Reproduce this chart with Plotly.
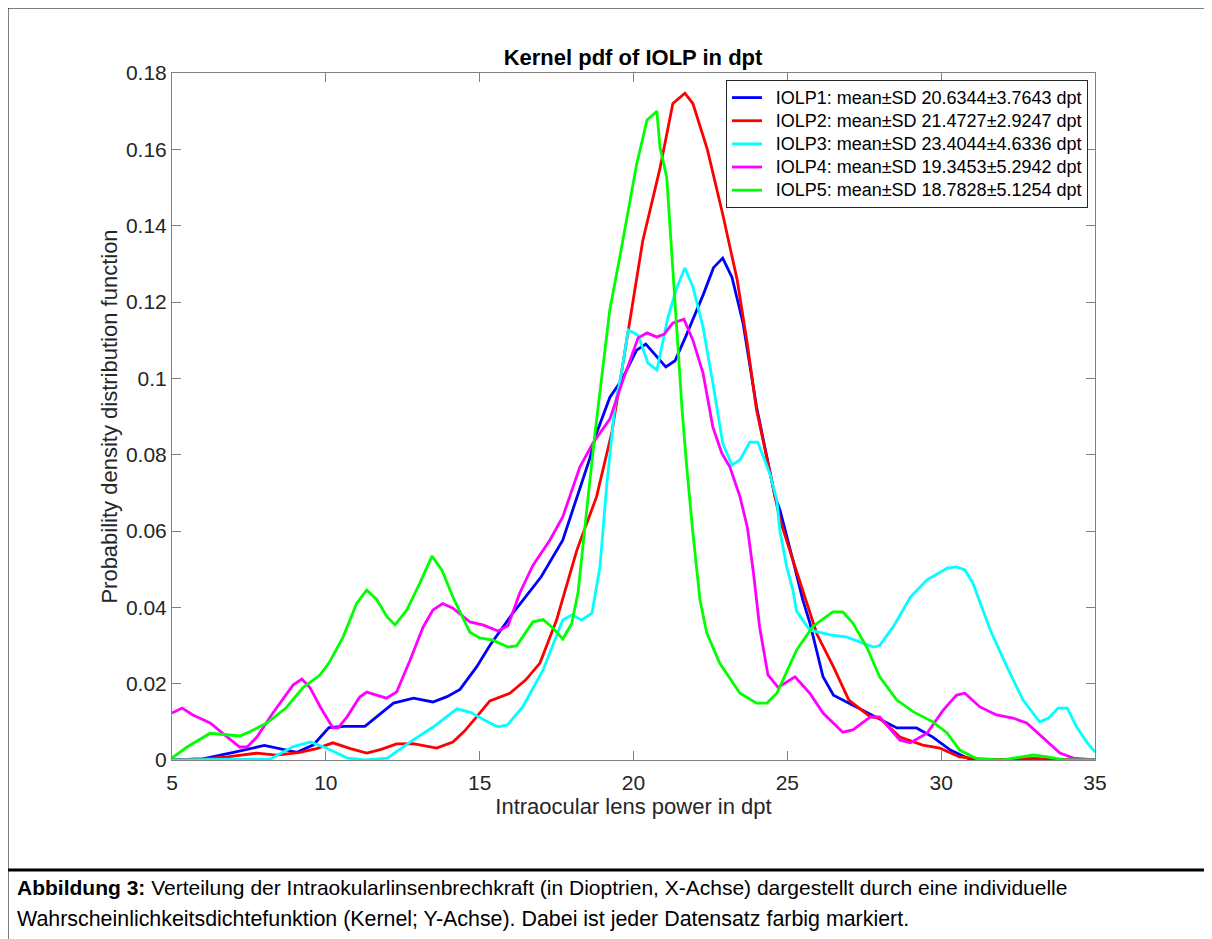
import plotly.graph_objects as go

# ---------------- data ----------------
x_iolp1 = [5, 6, 7, 8.0, 9.06, 9.6, 10.1, 10.6, 11.27, 12.2, 12.85, 13.48, 13.94, 14.36, 14.9, 15.33,
           16.08, 17.0, 17.7, 18.16, 18.58, 18.8, 19.23, 19.62, 20.1, 20.4, 21.05, 21.35, 21.7, 22.27,
           22.6, 22.9, 23.2, 23.56, 24.0, 24.6, 24.76, 25.18, 25.5, 25.73, 25.96, 26.16, 26.5, 27.26,
           27.9, 28.56, 29.2, 29.73, 30.3, 30.9, 32, 35]
y_iolp1 = [0, 0.0003, 0.002, 0.0038, 0.002, 0.004, 0.0085, 0.0088, 0.0088, 0.0149, 0.0162, 0.0152,
           0.0166, 0.0185, 0.0244, 0.030, 0.0385, 0.048, 0.0576, 0.069, 0.079, 0.0857, 0.095, 0.0996,
           0.1074, 0.109, 0.103, 0.1046, 0.111, 0.122, 0.129, 0.1315, 0.1265, 0.1145, 0.0925, 0.069,
           0.0655, 0.0524, 0.042, 0.036, 0.028, 0.0218, 0.017, 0.0139, 0.0113, 0.0084, 0.0084, 0.006,
           0.0026, 0.0003, 0, 0]

x_iolp2 = [5, 6, 6.8, 7.76, 8.4, 9.16, 9.7, 10.23, 10.8, 11.33, 11.8, 12.3, 12.83, 13.6, 14.13, 14.5,
           14.9, 15.33, 15.98, 16.5, 16.96, 17.5, 18.16, 18.8, 19.3, 19.88, 20.3, 20.86, 21.28, 21.67,
           21.93, 22.4, 22.9, 23.37, 23.7, 24.0, 24.76, 25.18, 25.73, 25.96, 26.5, 27.0, 27.7, 28.0,
           28.66, 29.4, 29.96, 30.6, 31.2, 32, 33, 34, 35]
y_iolp2 = [0, 0.0003, 0.0008, 0.0018, 0.0013, 0.002, 0.003, 0.0045, 0.003, 0.0018, 0.0028, 0.0042,
           0.0043, 0.0031, 0.0047, 0.0075, 0.0113, 0.0155, 0.0175, 0.021, 0.0254, 0.0367, 0.055, 0.069,
           0.086, 0.1145, 0.136, 0.155, 0.172, 0.1747, 0.172, 0.160, 0.143, 0.1258, 0.109, 0.0917,
           0.063, 0.0524, 0.039, 0.033, 0.0244, 0.0157, 0.0113, 0.011, 0.006, 0.0039, 0.0031, 0.0008,
           0.0003, 0.0001, 0.0004, 0.0001, 0]

x_iolp3 = [5, 8.2, 8.94, 9.5, 10.03, 10.7, 11.3, 12.0, 12.83, 13.5, 14.26, 14.7, 15.33, 15.6, 15.9,
           16.4, 17.06, 17.7, 18.0, 18.32, 18.65, 18.91, 19.13, 19.4, 19.6, 19.83, 20.15, 20.47, 20.76,
           21.12, 21.4, 21.67, 21.93, 22.26, 22.58, 22.9, 23.2, 23.46, 23.78, 24.04, 24.43, 24.66,
           24.76, 24.98, 25.18, 25.3, 25.73, 26.4, 26.94, 27.36, 27.8, 28.0, 28.45, 29.0, 29.54, 30.2,
           30.5, 30.77, 31.03, 31.6, 32.14, 32.66, 33.2, 33.5, 33.8, 34.1, 34.4, 34.75, 35]
y_iolp3 = [0, 0.0003, 0.0035, 0.0047, 0.0031, 0.0005, 0, 0.0005, 0.0052, 0.0087, 0.0134, 0.0125,
           0.0097, 0.0087, 0.0092, 0.0139, 0.0236, 0.0367, 0.038, 0.0367, 0.0385, 0.0506, 0.072, 0.093,
           0.101, 0.1127, 0.1113, 0.104, 0.1022, 0.116, 0.1236, 0.1289, 0.124, 0.1134, 0.0988, 0.083,
           0.0773, 0.0786, 0.0833, 0.0833, 0.075, 0.068, 0.060, 0.0506, 0.0445, 0.039, 0.034, 0.0328,
           0.0322, 0.031, 0.0296, 0.030, 0.035, 0.0427, 0.0472, 0.0503, 0.0506, 0.0498, 0.0464, 0.034,
           0.0244, 0.0157, 0.010, 0.011, 0.0136, 0.0136, 0.0087, 0.0045, 0.0021]

x_iolp4 = [5.0, 5.33, 5.68, 6.24, 6.8, 7.2, 7.44, 7.76, 8.28, 8.94, 9.22, 9.49, 9.82, 10.23, 10.4,
           10.69, 11.1, 11.33, 11.97, 12.3, 12.73, 13.16, 13.48, 13.8, 14.13, 14.68, 15.1, 15.6, 15.92,
           16.3, 16.73, 17.28, 17.7, 18.26, 18.68, 19.23, 19.66, 20.15, 20.44, 20.76, 21.0, 21.28,
           21.64, 21.93, 22.26, 22.58, 22.87, 23.13, 23.46, 23.7, 23.9, 24.1, 24.37, 24.7, 25.25,
           25.73, 26.16, 26.8, 27.13, 27.7, 28.0, 28.66, 29.0, 29.54, 30.06, 30.5, 30.77, 31.26, 31.8,
           32.33, 32.78, 33.3, 33.86, 34.3, 35]
y_iolp4 = [0.0123, 0.0136, 0.0118, 0.0097, 0.006, 0.0034, 0.0034, 0.006, 0.0123, 0.0197, 0.0212,
           0.0189, 0.0139, 0.0084, 0.0084, 0.0113, 0.0165, 0.0178, 0.0162, 0.0178, 0.026, 0.0348,
           0.0393, 0.041, 0.0398, 0.0362, 0.0354, 0.0338, 0.0352, 0.0437, 0.051, 0.0576, 0.0637,
           0.0768, 0.083, 0.0893, 0.0996, 0.1106, 0.1119, 0.1108, 0.1116, 0.1145, 0.1155, 0.110,
           0.1014, 0.0872, 0.0804, 0.0768, 0.069, 0.061, 0.049, 0.0348, 0.0223, 0.019, 0.0218, 0.0175,
           0.0123, 0.0073, 0.0079, 0.0113, 0.0113, 0.0052, 0.0045, 0.007, 0.013, 0.017, 0.0175, 0.0139,
           0.0118, 0.011, 0.0097, 0.006, 0.0018, 0.0005, 0]

x_iolp5 = [5.0, 5.49, 6.24, 6.8, 7.2, 7.5, 8.08, 8.7, 9.26, 9.8, 10.1, 10.56, 11.0, 11.33, 11.66,
           11.99, 12.25, 12.63, 13.06, 13.45, 13.77, 14.13, 14.68, 15.0, 15.43, 15.92, 16.2, 16.73,
           17.06, 17.38, 17.7, 17.99, 18.2, 18.49, 18.75, 19.23, 19.56, 20.1, 20.44, 20.76, 20.86,
           21.08, 21.28, 21.58, 21.73, 21.93, 22.16, 22.38, 22.8, 23.46, 24.0, 24.33, 24.66, 25.3,
           25.83, 26.48, 26.8, 27.13, 27.58, 28.0, 28.56, 29.1, 29.73, 30.19, 30.6, 31.16, 32.0,
           32.56, 33.0, 33.45, 34.0, 35]
y_iolp5 = [0.0005, 0.0034, 0.007, 0.0066, 0.0063, 0.0073, 0.0097, 0.0136, 0.019, 0.0222, 0.0254,
           0.0322, 0.041, 0.0445, 0.042, 0.0375, 0.0354, 0.0393, 0.0464, 0.0534, 0.0498, 0.0427,
           0.0335, 0.032, 0.0314, 0.0296, 0.0299, 0.0362, 0.0368, 0.0346, 0.0317, 0.0357, 0.044,
           0.0663, 0.0857, 0.118, 0.132, 0.156, 0.1677, 0.170, 0.1606, 0.1527, 0.129, 0.0917, 0.0768,
           0.0595, 0.042, 0.0333, 0.0254, 0.0175, 0.0149, 0.0149, 0.0175, 0.0288, 0.035, 0.0388,
           0.0388, 0.0359, 0.0296, 0.0218, 0.0157, 0.0126, 0.010, 0.0071, 0.0026, 0.0003, 0, 0.0008,
           0.0013, 0.0008, 0, 0]

series_names = [
    "IOLP1: mean\u00b1SD 20.6344\u00b13.7643 dpt",
    "IOLP2: mean\u00b1SD 21.4727\u00b12.9247 dpt",
    "IOLP3: mean\u00b1SD 23.4044\u00b14.6336 dpt",
    "IOLP4: mean\u00b1SD 19.3453\u00b15.2942 dpt",
    "IOLP5: mean\u00b1SD 18.7828\u00b15.1254 dpt",
]
series_colors = ["#0000ff", "#ff0000", "#00ffff", "#ff00ff", "#00ff00"]

x_ticks = [5, 10, 15, 20, 25, 30, 35]
y_ticks = [0, 0.02, 0.04, 0.06, 0.08, 0.1, 0.12, 0.14, 0.16, 0.18]
y_ticktext = ["0", "0.02", "0.04", "0.06", "0.08", "0.1", "0.12", "0.14", "0.16", "0.18"]

caption_bold = "Abbildung 3:"
caption_line1 = " Verteilung der Intraokularlinsenbrechkraft (in Dioptrien, X-Achse) dargestellt durch eine individuelle"
caption_line2 = "Wahrscheinlichkeitsdichtefunktion (Kernel; Y-Achse). Dabei ist jeder Datensatz farbig markiert."

# ---------------- figure ----------------
OFF = 8                      # page body margin of the html page
W, H = 1212 - OFF, 939 - OFF
L, R, T, B = 172 - OFF, 1095 - OFF, 73 - OFF, 760 - OFF  # plot area (figure pixels)
PW, PH = R - L, B - T


def px(xp):
    """page x pixel -> paper coordinate"""
    return (xp - OFF - L) / PW


def py(yp):
    """page y pixel -> paper coordinate"""
    return (B - (yp - OFF)) / PH


FONT = "Liberation Sans, Arial, sans-serif"
AXC = "#808080"
TXC = "#262626"

fig = go.Figure()
xs = [x_iolp1, x_iolp2, x_iolp3, x_iolp4, x_iolp5]
ys = [y_iolp1, y_iolp2, y_iolp3, y_iolp4, y_iolp5]
for xv, yv, nm, col in zip(xs, ys, series_names, series_colors):
    fig.add_trace(go.Scatter(x=xv, y=yv, mode="lines",
                             name='\u00a0\u00a0<span style="font-size:18px">' + nm + "</span>",
                             line=dict(color=col, width=2.8)))

fig.update_layout(
    width=W, height=H, autosize=False,
    margin=dict(l=L, r=W - R, t=T, b=H - B, pad=0),
    paper_bgcolor="white", plot_bgcolor="white",
    font=dict(family=FONT, color=TXC, size=20),
    title=dict(text="<b>Kernel pdf of IOLP in dpt</b>", x=(633 - OFF) / W, xanchor="center",
               y=1 - (57 - OFF) / H, yanchor="middle", font=dict(size=22, color="black", family=FONT)),
    showlegend=True,
    legend=dict(x=px(726), y=py(80), xanchor="left", yanchor="top",
                bgcolor="white", bordercolor="#262626", borderwidth=1,
                font=dict(size=15.5, color="black", family=FONT),
                tracegroupgap=0, itemwidth=30),
)
fig.update_xaxes(range=[5, 35], tickvals=x_ticks, ticks="inside", ticklen=9, tickcolor=AXC,
                 showline=True, linecolor=AXC, linewidth=1, mirror="ticks", showgrid=False,
                 zeroline=False, tickfont=dict(size=21, color=TXC), ticklabelstandoff=4,
                 title=dict(text="Intraocular lens power in dpt", font=dict(size=22, color=TXC),
                            standoff=3))
fig.update_yaxes(range=[0, 0.18], tickvals=y_ticks, ticktext=y_ticktext, ticks="inside", ticklen=9,
                 tickcolor=AXC, showline=True, linecolor=AXC, linewidth=1, mirror="ticks",
                 showgrid=False, zeroline=False, tickfont=dict(size=21, color=TXC),
                 title=dict(text="Probability density distribution function",
                            font=dict(size=22, color=TXC), standoff=2))

# outer frame lines of the figure box
fig.add_shape(type="line", xref="paper", yref="paper", x0=px(7), x1=px(1220), y0=py(7.5), y1=py(7.5),
              line=dict(color="black", width=2))
fig.add_shape(type="line", xref="paper", yref="paper", x0=px(7.5), x1=px(7.5), y0=py(7), y1=py(950),
              line=dict(color="black", width=2))
fig.add_shape(type="line", xref="paper", yref="paper", x0=px(7), x1=px(1220), y0=py(870), y1=py(870),
              line=dict(color="black", width=3))

# caption
fig.add_annotation(xref="paper", yref="paper", x=px(15), y=py(887), xanchor="left", yanchor="middle",
                   showarrow=False, align="left",
                   text="<b>" + caption_bold + "</b>" + caption_line1,
                   font=dict(size=21, color="black", family=FONT))
fig.add_annotation(xref="paper", yref="paper", x=px(15), y=py(919), xanchor="left", yanchor="middle",
                   showarrow=False, align="left", text=caption_line2,
                   font=dict(size=21.4, color="black", family=FONT))

fig.write_html("out.html")
